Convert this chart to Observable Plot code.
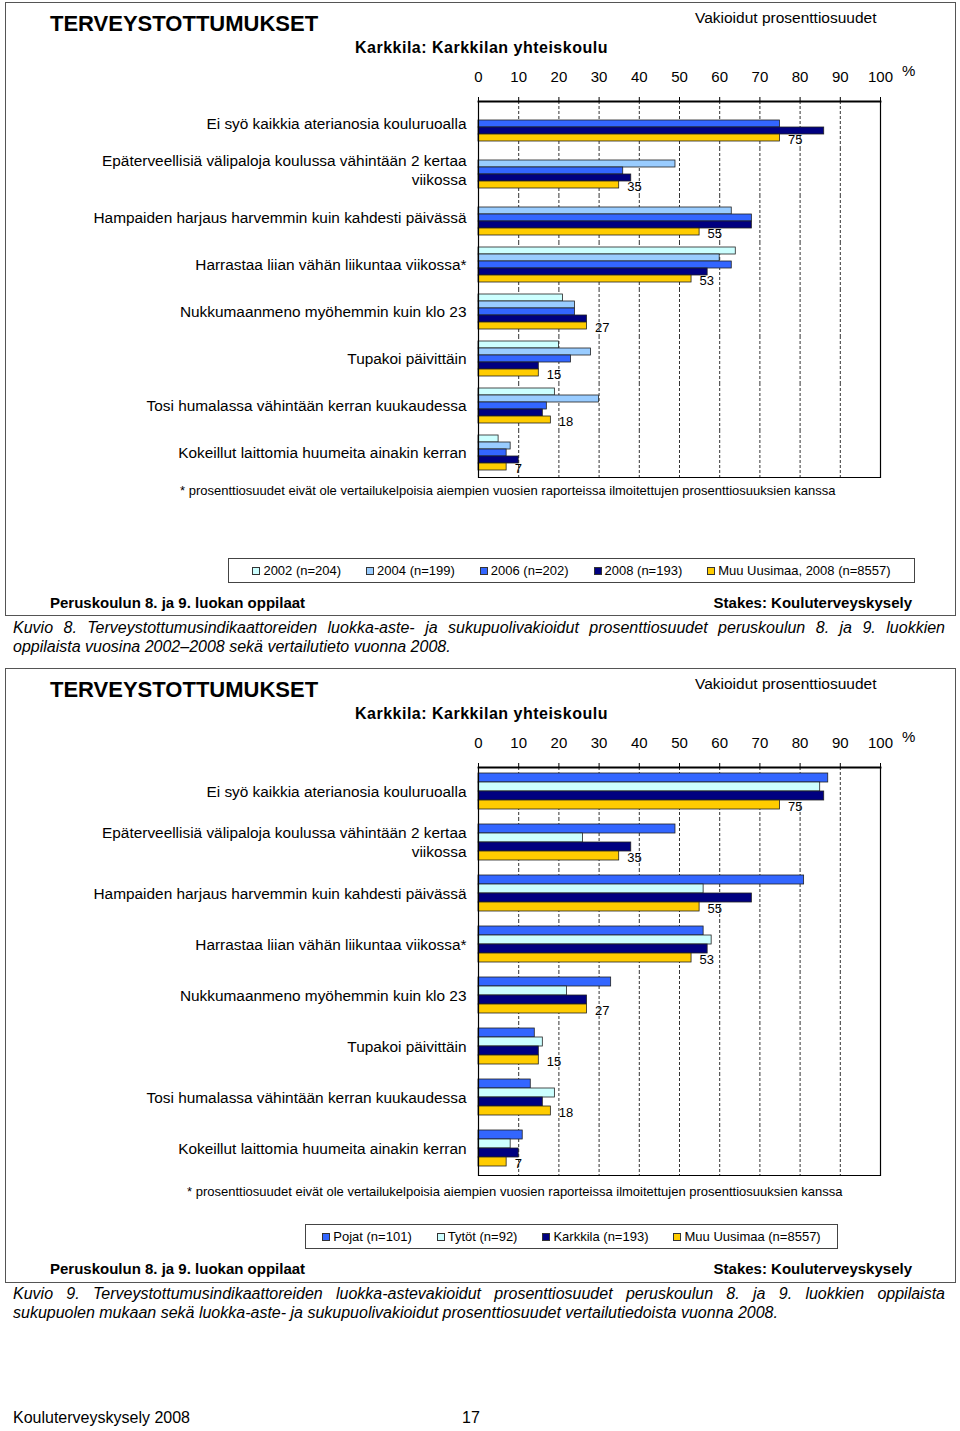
<!DOCTYPE html>
<html><head><meta charset="utf-8">
<script src="https://cdn.jsdelivr.net/npm/d3@7"></script>
<script src="https://cdn.jsdelivr.net/npm/@observablehq/plot@0.6"></script>
<style>
body{margin:0;background:#fff;font-family:"Liberation Sans",Arial,sans-serif;color:#000}
#page{position:relative;width:960px;height:1431px;overflow:hidden;background:#fff}
.abs{position:absolute;white-space:nowrap;line-height:1}
.panel{position:absolute;left:5px;width:951px;border:1.5px solid #555;box-sizing:border-box}
.title{font-weight:bold;font-size:22px}
.sub{font-weight:bold;font-size:16px;letter-spacing:0.5px}
.vak{font-size:15.5px}
.pct{font-size:15px}
.foot{font-size:13px}
.bold15{font-weight:bold;font-size:15px}
.legend{position:absolute;border:1px solid #444;box-sizing:border-box;display:flex;align-items:center;justify-content:center;gap:25px;font-size:13px;white-space:nowrap}
.legend .it{display:flex;align-items:center}
.legend .sw{width:8px;height:8px;border:1px solid #333;box-sizing:border-box;margin-right:3px}
.cap{position:absolute;left:13px;width:932px;font-style:italic;font-size:16px;line-height:19.5px}
.cap .l1{text-align:justify;text-align-last:justify;white-space:nowrap}
.chart{position:absolute;left:0}
</style></head>
<body><div id="page"></div>
<script>
// ---------- data ----------
const categories = [
  "Ei syö kaikkia aterianosia kouluruoalla",
  "Epäterveellisiä välipaloja koulussa vähintään 2 kertaa viikossa",
  "Hampaiden harjaus harvemmin kuin kahdesti päivässä",
  "Harrastaa liian vähän liikuntaa viikossa*",
  "Nukkumaanmeno myöhemmin kuin klo 23",
  "Tupakoi päivittäin",
  "Tosi humalassa vähintään kerran kuukaudessa",
  "Kokeillut laittomia huumeita ainakin kerran"
];
const categoryLabels = [
  "Ei syö kaikkia aterianosia kouluruoalla",
  "Epäterveellisiä välipaloja koulussa vähintään 2 kertaa\nviikossa",
  "Hampaiden harjaus harvemmin kuin kahdesti päivässä",
  "Harrastaa liian vähän liikuntaa viikossa*",
  "Nukkumaanmeno myöhemmin kuin klo 23",
  "Tupakoi päivittäin",
  "Tosi humalassa vähintään kerran kuukaudessa",
  "Kokeillut laittomia huumeita ainakin kerran"
];
const xTicks = [0, 10, 20, 30, 40, 50, 60, 70, 80, 90, 100];

// Chart 1 (Kuvio 8)
const series1 = ["2002 (n=204)", "2004 (n=199)", "2006 (n=202)", "2008 (n=193)", "Muu Uusimaa, 2008 (n=8557)"];
const v2002 = [null, null, null, 64, 21, 20, 19, 5];
const v2004 = [null, 49, 63, 60, 24, 28, 30, 8];
const v2006 = [75, 36, 68, 63, 24, 23, 17, 7];
const v2008 = [86, 38, 68, 57, 27, 15, 16, 10];
const vMuu1 = [75, 35, 55, 53, 27, 15, 18, 7];
const colors1 = ["#CCFFFF", "#99CCFF", "#3366FF", "#000080", "#FFCC00"];

// Chart 2 (Kuvio 9)
const series2 = ["Pojat (n=101)", "Tytöt (n=92)", "Karkkila (n=193)", "Muu Uusimaa (n=8557)"];
const vPojat = [87, 49, 81, 56, 33, 14, 13, 11];
const vTytot = [85, 26, 56, 58, 22, 16, 19, 8];
const vKarkkila = [86, 38, 68, 57, 27, 15, 16, 10];
const vMuu2 = [75, 35, 55, 53, 27, 15, 18, 7];
const colors2 = ["#3366FF", "#CCFFFF", "#000080", "#FFCC00"];

const FONT = '"Liberation Sans", Arial, sans-serif';

function makeChart(series, values, colors, frameH, padOuter, align) {
  const rows = [];
  series.forEach((s, i) => values[i].forEach((v, j) => {
    if (v != null) rows.push({category: categories[j], series: s, value: v});
  }));
  const last = series[series.length - 1];
  const labelRows = rows.filter(d => d.series === last);
  const mt = 44, mb = 2;
  return Plot.plot({
    width: 960, height: mt + frameH + mb,
    marginLeft: 478, marginRight: 80, marginTop: mt, marginBottom: mb,
    style: {fontFamily: FONT, background: "transparent", overflow: "visible", color: "#000"},
    x: {domain: [0, 100]},
    y: {domain: series, paddingInner: 0, paddingOuter: padOuter, align: align, axis: null},
    fy: {domain: categories, paddingInner: 0, paddingOuter: 0},
    color: {domain: series, range: colors},
    marks: [
      Plot.gridX(xTicks.slice(1, -1), {stroke: "#333", strokeOpacity: 1, strokeDasharray: "3,2"}),
      Plot.barX(rows, {x: "value", y: "series", fy: "category", fill: "series", stroke: "#222", strokeWidth: 0.8}),
      Plot.text(labelRows, {x: "value", y: "series", fy: "category", text: d => String(d.value), textAnchor: "start", dx: 8, dy: 1.5, fontSize: 13, fill: "#000"}),
      Plot.ruleX([0, 100], {stroke: "#000", strokeWidth: 1.2}),
      Plot.frame({anchor: "top", facetAnchor: "top", stroke: "#000", strokeWidth: 1.8}),
      Plot.frame({anchor: "bottom", facetAnchor: "bottom", stroke: "#000", strokeWidth: 1.2}),
      Plot.axisX(xTicks, {anchor: "top", tickSize: 5, tickPadding: 15, fontSize: 15, label: null}),
      Plot.axisFy({anchor: "left", tickSize: 0, tickPadding: 12, fontSize: 15.4, label: null, lineHeight: 1.25, dy: -2.5,
        tickFormat: d => categoryLabels[categories.indexOf(d)]})
    ]
  });
}

const page = document.getElementById("page");
function add(html) { page.insertAdjacentHTML("beforeend", html); }
function legend(series, colors, left, top, width) {
  const items = series.map((s, i) =>
    `<div class="it"><div class="sw" style="background:${colors[i]}"></div><span>${s}</span></div>`).join("");
  add(`<div class="legend" style="left:${left}px;top:${top}px;width:${width}px;height:25px">${items}</div>`);
}

function panelText(off, footTop, footLeft, bottomTop) {
  add(`<div class="abs title" style="left:50px;top:${13 + off}px">TERVEYSTOTTUMUKSET</div>`);
  add(`<div class="abs sub" style="left:355px;top:${40 + off}px">Karkkila: Karkkilan yhteiskoulu</div>`);
  add(`<div class="abs vak" style="left:695px;top:${10 + off}px">Vakioidut prosenttiosuudet</div>`);
  add(`<div class="abs pct" style="left:902px;top:${63 + off}px">%</div>`);
  add(`<div class="abs foot" style="left:${footLeft}px;top:${footTop}px">* prosenttiosuudet eivät ole vertailukelpoisia aiempien vuosien raporteissa ilmoitettujen prosenttiosuuksien kanssa</div>`);
  add(`<div class="abs bold15" style="left:50px;top:${bottomTop}px">Peruskoulun 8. ja 9. luokan oppilaat</div>`);
  add(`<div class="abs bold15" style="right:48px;top:${bottomTop}px">Stakes: Kouluterveyskysely</div>`);
}

// Panel 1
add(`<div class="panel" style="top:2px;height:614px"></div>`);
panelText(0, 483.5, 180, 594.5);
const c1 = document.createElement("div"); c1.className = "chart"; c1.style.top = "55px";
c1.appendChild(makeChart(series1, [v2002, v2004, v2006, v2008, vMuu1], colors1, 379, 0.54, 0.4));
page.appendChild(c1);
legend(series1, colors1, 228, 558, 687);
add(`<div class="cap" style="top:617.5px"><div class="l1">Kuvio 8. Terveystottumusindikaattoreiden luokka-aste- ja sukupuolivakioidut prosenttiosuudet peruskoulun 8. ja 9. luokkien</div><div>oppilaista vuosina 2002–2008 sekä vertailutieto vuonna 2008.</div></div>`);

// Panel 2
add(`<div class="panel" style="top:668px;height:615px"></div>`);
panelText(666, 1184.5, 187, 1260.5);
const c2 = document.createElement("div"); c2.className = "chart"; c2.style.top = "722px";
c2.appendChild(makeChart(series2, [vPojat, vTytot, vKarkkila, vMuu2], colors2, 409, 0.75, 0.41));
page.appendChild(c2);
legend(series2, colors2, 305, 1224, 533);
add(`<div class="cap" style="top:1283.5px"><div class="l1">Kuvio 9. Terveystottumusindikaattoreiden luokka-astevakioidut prosenttiosuudet peruskoulun 8. ja 9. luokkien oppilaista</div><div>sukupuolen mukaan sekä luokka-aste- ja sukupuolivakioidut prosenttiosuudet vertailutiedoista vuonna 2008.</div></div>`);

// Page footer
add(`<div class="abs" style="left:13px;top:1410px;font-size:16px">Kouluterveyskysely 2008</div>`);
add(`<div class="abs" style="left:462px;top:1410px;font-size:16px">17</div>`);
</script>
</body></html>
